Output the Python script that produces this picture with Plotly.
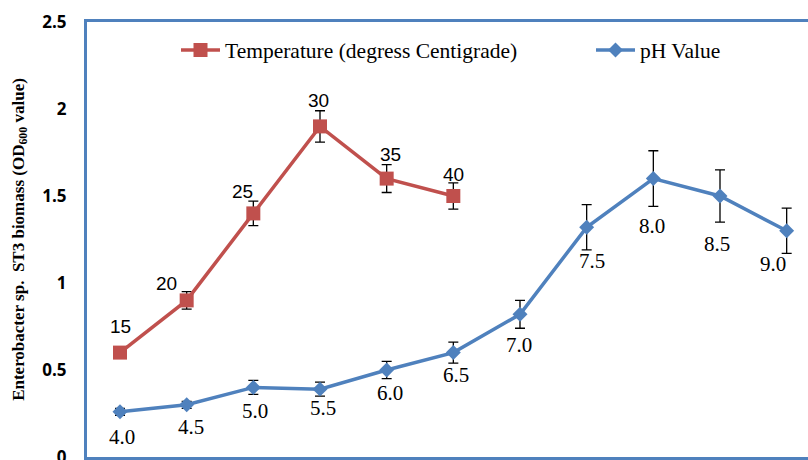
import plotly.graph_objects as go

# ---- data ----
temp_labels = ["15", "20", "25", "30", "35", "40"]
temp_values = [0.60, 0.90, 1.40, 1.90, 1.60, 1.50]
temp_err = [0.02, 0.05, 0.07, 0.09, 0.08, 0.075]

ph_labels = ["4.0", "4.5", "5.0", "5.5", "6.0", "6.5", "7.0", "7.5", "8.0", "8.5", "9.0"]
ph_values = [0.26, 0.30, 0.40, 0.39, 0.50, 0.60, 0.82, 1.32, 1.60, 1.50, 1.30]
ph_err = [0.02, 0.02, 0.04, 0.04, 0.05, 0.06, 0.08, 0.13, 0.16, 0.15, 0.13]

y_ticks = [0, 0.5, 1, 1.5, 2, 2.5]
y_tick_text = ["0", "0.5", "1", "1.5", "2", "2.5"]

# ---- label placement (pixel offsets from each point; style only) ----
temp_label_dx = [0, -20, -11, -2, 4, 0]
temp_label_dy = [26, 17, 22, 26, 24, 22]
ph_label_dx = [2, 4, 2, 3, 3, 3, -1, 5, -1, -3, -14]
ph_label_dy = [-25, -22, -24, -19, -23, -22, -31, -34, -47, -48, -33]

RED = "#C0504D"
BLUE = "#4F81BD"
BOX = "#4F81BD"

W, H = 808, 460
ML, MT, MB, MR = 87, 22, 3, 0
PW, PH = W - ML - MR, H - MT - MB

def px_x(p):
    return (p - ML) / PW

def px_y(p):
    return (H - MB - p) / PH

fig = go.Figure()

fig.add_trace(go.Scatter(
    x=list(range(len(temp_values))), y=temp_values,
    mode="lines+markers",
    name="Temperature (degress Centigrade)",
    line=dict(color=RED, width=3.5),
    marker=dict(symbol="square", size=14, color=RED),
    error_y=dict(type="data", array=temp_err, visible=True, color="#000000", thickness=1.3, width=5),
    cliponaxis=False,
    legend="legend",
))

fig.add_trace(go.Scatter(
    x=list(range(len(ph_values))), y=ph_values,
    mode="lines+markers",
    name="pH Value",
    line=dict(color=BLUE, width=3.5),
    marker=dict(symbol="diamond", size=11.5, color=BLUE),
    error_y=dict(type="data", array=ph_err, visible=True, color="#000000", thickness=1.3, width=5),
    cliponaxis=False,
    legend="legend2",
))

annotations = []
for i, (lab, v) in enumerate(zip(temp_labels, temp_values)):
    annotations.append(dict(
        x=i, y=v, xref="x", yref="y", text=lab, showarrow=False,
        xanchor="center", yanchor="middle",
        xshift=temp_label_dx[i], yshift=temp_label_dy[i],
        font=dict(family="Liberation Sans, Arial, sans-serif", size=19, color="#000000"),
    ))
for i, (lab, v) in enumerate(zip(ph_labels, ph_values)):
    annotations.append(dict(
        x=i, y=v, xref="x", yref="y", text=lab, showarrow=False,
        xanchor="center", yanchor="middle",
        xshift=ph_label_dx[i], yshift=ph_label_dy[i],
        font=dict(family="Liberation Serif, Times New Roman, serif", size=21, color="#000000"),
    ))

legend_font = dict(family="Liberation Serif, Times New Roman, serif", size=21.5, color="#000000")

fig.update_layout(
    width=W, height=H,
    margin=dict(l=ML, r=MR, t=MT, b=MB, pad=0, autoexpand=False),
    paper_bgcolor="#FFFFFF", plot_bgcolor="#FFFFFF",
    showlegend=True,
    annotations=annotations,
    legend=dict(x=px_x(176), y=px_y(50), xanchor="left", yanchor="middle",
                orientation="h", font=legend_font, bgcolor="rgba(0,0,0,0)", itemwidth=39),
    legend2=dict(x=px_x(591), y=px_y(50), xanchor="left", yanchor="middle",
                 orientation="h", font=legend_font, bgcolor="rgba(0,0,0,0)", itemwidth=39),
    xaxis=dict(range=[-0.495, 10.32], showgrid=False, zeroline=False,
               showticklabels=False, ticks="", automargin=False,
               showline=True, linecolor=BOX, linewidth=3, mirror=True),
    yaxis=dict(range=[0, 2.5], tickvals=y_ticks, ticktext=y_tick_text,
               showgrid=False, zeroline=False, ticks="", automargin=False,
               showline=True, linecolor=BOX, linewidth=3,
               tickfont=dict(family="Open Sans, Liberation Sans, sans-serif", size=17, color="#000000", weight="bold"),
               ticklabelstandoff=14, ticklabeloverflow="allow",
               title=dict(text="Enterobacter sp.  ST3 biomass (OD<sub>600</sub> value)",
                          font=dict(family="Liberation Serif, Times New Roman, serif", size=17, color="#000000", weight="bold"),
                          standoff=14)),
)

fig.write_html("out.html", config={"displayModeBar": False},
               post_script="document.body.style.margin='0';document.body.style.padding='0';document.body.style.overflow='hidden';")
